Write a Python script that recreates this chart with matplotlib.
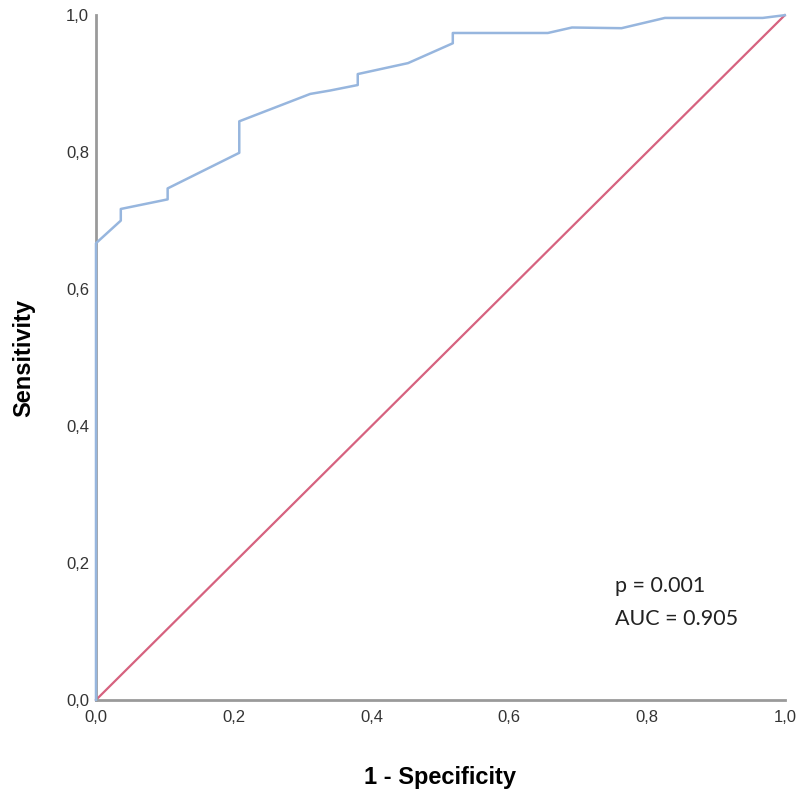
import matplotlib
matplotlib.use('Agg')
import matplotlib.pyplot as plt

# ROC curve
fpr = [0.0, 0.0, 0.036, 0.036, 0.104, 0.104, 0.208, 0.208, 0.311, 0.340, 0.380, 0.380,
       0.453, 0.518, 0.518, 0.656, 0.691, 0.763, 0.826, 0.968, 1.0]
tpr = [0.0, 0.667, 0.700, 0.717, 0.731, 0.747, 0.799, 0.845, 0.885, 0.890, 0.898, 0.914,
       0.930, 0.959, 0.974, 0.974, 0.982, 0.981, 0.996, 0.996, 1.0]
ref = [0.0, 1.0]
ticks = [0.0, 0.2, 0.4, 0.6, 0.8, 1.0]
tick_labels = ['0,0', '0,2', '0,4', '0,6', '0,8', '1,0']

fig = plt.figure(figsize=(8, 7.99), dpi=100)
ax = fig.add_axes([0.12, 0.124, 0.861, 0.857])

ax.plot(ref, ref, color='#d6627f', lw=1.6, clip_on=False, zorder=2)
ax.plot(fpr, tpr, color='#97b6de', lw=1.8, clip_on=False, zorder=3)

ax.set_xlim(0, 1)
ax.set_ylim(0, 1)
ax.set_xticks(ticks)
ax.set_xticklabels(tick_labels)
ax.set_yticks(ticks)
ax.set_yticklabels(tick_labels)
ax.tick_params(length=0, labelsize=12, colors='#333333')
ax.tick_params(axis='x', pad=7)
ax.tick_params(axis='y', pad=5)
for lab in ax.get_xticklabels() + ax.get_yticklabels():
    lab.set_family('Liberation Sans')

for s in ['top', 'right']:
    ax.spines[s].set_visible(False)
for s in ['left', 'bottom']:
    ax.spines[s].set_color('#9a9a9a')
    ax.spines[s].set_linewidth(2)

ax.set_xlabel('1 - Specificity', fontsize=17, fontweight='bold', family='Liberation Sans', labelpad=30)
ax.set_ylabel('Sensitivity', fontsize=17, fontweight='bold', family='Liberation Sans', labelpad=22)

ax.text(0.753, 0.142, 'p = 0.001\nAUC = 0.905', fontsize=15.5, family='Lato',
        linespacing=1.85, va='center', ha='left', color='#222222')

fig.savefig('out.png', dpi=100, facecolor='white')
